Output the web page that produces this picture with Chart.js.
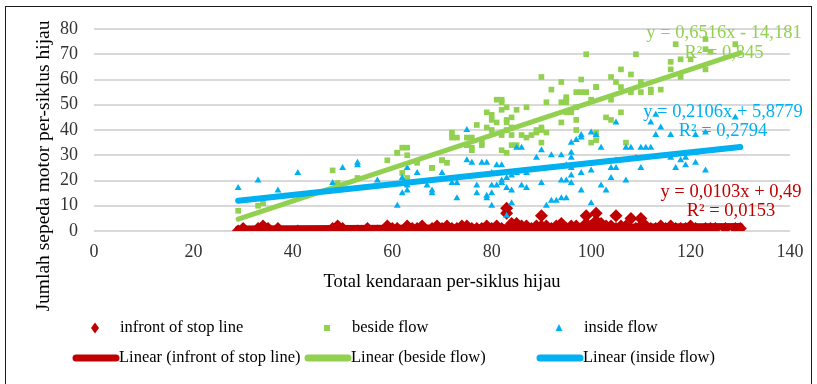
<!DOCTYPE html>
<html>
<head>
<meta charset="utf-8">
<script src="https://cdn.jsdelivr.net/npm/chart.js@4"></script>
<style>
	html, body { margin: 0; padding: 0; background: #fff; }
	#wrap { position: relative; width: 817px; height: 384px; overflow: hidden; }
	#frame { position: absolute; left: 5px; top: 6px; width: 807px; height: 400px; border: 1px solid #1a1a1a; box-sizing: border-box; pointer-events: none; }
	canvas { position: absolute; left: 0; top: 0; }
</style>
</head>
<body>
<div id="wrap">
	<canvas id="chart" width="817" height="384"></canvas>
	<div id="frame"></div>
</div>
<script>
// Series names
const seriesNames = ["infront of stop line", "beside flow", "inside flow"];

// infront of stop line (red diamonds)
const infrontX = [29, 30, 33, 34, 35, 37, 41, 48, 49, 50, 53, 55, 57, 59, 60, 61, 62, 63, 64, 65, 66, 67, 68, 69, 70, 71, 71, 72, 73, 74, 74, 75, 76, 77, 78, 78, 79, 80, 80, 81, 82, 83, 83, 83, 84, 84, 84, 85, 85, 86, 86, 87, 88, 88, 89, 89, 90, 90, 91, 91, 92, 92, 93, 93, 94, 94, 95, 95, 96, 96, 97, 97, 98, 98, 99, 99, 100, 100, 101, 101, 102, 102, 103, 103, 104, 104, 105, 105, 105, 106, 106, 107, 107, 108, 108, 109, 109, 110, 110, 111, 111, 112, 112, 113, 114, 114, 115, 116, 116, 117, 118, 119, 120, 121, 122, 123, 124, 125, 127, 129, 130];
const infrontY = [0, 1, 1, 2, 1, 1, 0, 1, 2, 1, 0, 1, 0, 2, 1, 1, 0, 2, 1, 1, 2, 0, 1, 2, 1, 0, 2, 1, 1, 0, 2, 2, 1, 1, 0, 1, 2, 1, 0, 2, 1, 9, 7, 0, 2, 1, 3, 1, 3, 0, 2, 2, 1, 0, 1, 2, 6, 2, 0, 2, 1, 0, 2, 0, 1, 3, 1, 0, 2, 0, 1, 2, 0, 1, 6, 3, 1, 2, 7, 4, 3, 0, 1, 2, 2, 1, 6, 1, 0, 0, 2, 1, 2, 5, 0, 1, 0, 5, 2, 1, 2, 0, 1, 1, 2, 0, 1, 0, 2, 1, 1, 1, 2, 1, 0, 1, 1, 1, 1, 1, 1];

// beside flow (green squares)
const besideX = [29, 33, 34, 48, 49, 53, 59, 61, 62, 63, 63, 62, 63, 65, 68, 70, 71, 72, 72, 75, 76, 77, 76, 78, 79, 80, 81, 82, 82, 80, 83, 83, 83, 84, 84, 83, 85, 87, 85, 87, 89, 90, 90, 90, 91, 90, 92, 91, 94, 94, 95, 97, 97, 95, 99, 98, 95, 98, 99, 101, 97, 97, 94, 89, 88, 101, 101, 80, 82, 81, 83, 79, 84, 82, 84, 86, 82, 78, 109, 117, 116, 118, 120, 123, 116, 118, 106, 104, 105, 108, 110, 101, 106, 104, 108, 110, 112, 114, 112, 100, 106, 103, 104, 100, 107, 123, 123, 129, 124, 61, 68, 70, 73, 75, 76, 95, 96];
const besideY = [8, 10, 11, 24, 19, 21, 28, 31, 33, 33, 30, 23, 21, 27, 25, 28, 27, 39, 37, 37, 37, 42, 33, 35, 47, 40, 52, 52, 48, 44, 49, 44, 40, 38, 45, 31, 34, 37, 48, 49, 39, 40, 41, 35, 39, 61, 56, 51, 51, 59, 53, 55, 49, 47, 70, 60, 52, 55, 55, 57, 44, 40, 43, 40, 38, 36, 39, 46, 51, 43, 43, 41, 41, 38, 34, 38, 32, 34, 70, 74, 67, 68, 68, 72, 64, 61, 64, 61, 59, 62, 59, 57, 57, 52, 55, 55, 55, 56, 56, 52, 47, 45, 44, 35, 35, 76, 64, 74, 71, 31, 25, 28, 37, 34, 32, 51, 47];

// inside flow (blue triangles)
const insideX = [29, 33, 37, 41, 48, 50, 53, 53, 57, 61, 62, 63, 63, 63, 65, 62, 67, 68, 68, 70, 72, 73, 73, 75, 75, 76, 77, 77, 79, 80, 81, 80, 79, 80, 80, 81, 82, 82, 83, 83, 84, 83, 84, 85, 86, 85, 87, 89, 90, 90, 92, 91, 92, 93, 94, 94, 94, 95, 96, 96, 96, 97, 96, 96, 95, 98, 100, 96, 98, 98, 98, 101, 95, 100, 79, 86, 87, 82, 84, 105, 100, 102, 104, 105, 104, 105, 107, 108, 107, 102, 103, 110, 111, 112, 109, 110, 112, 114, 113, 116, 113, 116, 118, 119, 121, 121, 129, 123, 123, 117, 119, 121, 78];
const insideY = [17, 20, 16, 23, 19, 25, 27, 26, 20, 10, 15, 25, 18, 16, 23, 21, 18, 16, 15, 23, 19, 19, 13, 40, 28, 27, 18, 15, 27, 18, 18, 23, 14, 15, 10, 26, 26, 19, 21, 17, 16, 6, 11, 33, 33, 23, 23, 29, 19, 32, 30, 10, 12, 12, 13, 30, 20, 20, 25, 22, 31, 36, 35, 29, 26, 23, 24, 19, 16, 37, 38, 38, 13, 11, 13, 18, 17, 20, 22, 43, 39, 33, 25, 25, 21, 28, 33, 33, 20, 18, 16, 33, 33, 33, 29, 25, 43, 41, 38, 38, 46, 29, 28, 29, 31, 38, 45, 24, 39, 25, 26, 27, 27];

// trendlines: slope, intercept, x range
const trendSlope = [0.0103, 0.6516, 0.2106];
const trendIntercept = [0.49, -14.181, 5.8779];
const trendRange = [29, 130];

// trendline labels
const trendEquation = ["y = 0,0103x + 0,49", "y = 0,6516x - 14,181", "y = 0,2106x + 5,8779"];
const trendR2 = ["R² = 0,0153", "R² = 0,845", "R² = 0,2794"];

// axes
const xTicks = [0, 20, 40, 60, 80, 100, 120, 140];
const yTicks = [0, 10, 20, 30, 40, 50, 60, 70, 80];
const xTitle = "Total kendaraan per-siklus hijau";
const yTitle = "Jumlah sepeda motor per-siklus hijau";

const colors = ["#C00000", "#92D050", "#00B0F0"];
const serif = "'Liberation Serif', 'Times New Roman', serif";

function toPoints(xs, ys) {
	return xs.map((x, i) => ({ x: x, y: ys[i] }));
}

function trendPoints(i) {
	return trendRange.map((x) => ({ x: x, y: trendSlope[i] * x + trendIntercept[i] }));
}

// label anchors in pixels (centre of each line of text)
const labelPos = [
	{ x: 731, eqY: 192, r2Y: 211 },
	{ x: 724, eqY: 33, r2Y: 53 },
	{ x: 723, eqY: 112, r2Y: 131 },
];

// Legend, y title and trendline labels drawn by hand
const extrasPlugin = {
	id: "extras",
	afterDraw(chart) {
		const ctx = chart.ctx;
		ctx.save();

		// y axis title (Excel centres it lower than the plot area)
		ctx.save();
		ctx.translate(44, 166);
		ctx.rotate(-Math.PI / 2);
		ctx.font = "19.5px " + serif;
		ctx.fillStyle = "#000";
		ctx.textAlign = "center";
		ctx.textBaseline = "middle";
		ctx.fillText(yTitle, 0, 0);
		ctx.restore();

		// equation labels
		ctx.font = "18.5px " + serif;
		ctx.textAlign = "center";
		ctx.textBaseline = "middle";
		for (let i = 0; i < 3; i++) {
			ctx.fillStyle = colors[i];
			ctx.fillText(trendEquation[i], labelPos[i].x, labelPos[i].eqY);
			ctx.fillText(trendR2[i], labelPos[i].x, labelPos[i].r2Y);
		}

		// legend
		const cols = [120, 352, 584];
		const row1 = 328;
		const row2 = 358;
		ctx.font = "16.5px " + serif;
		ctx.textAlign = "left";
		for (let i = 0; i < 3; i++) {
			const tx = cols[i];
			// marker
			ctx.fillStyle = colors[i];
			const mx = tx - 25;
			ctx.beginPath();
			if (i === 0) {
				ctx.moveTo(mx, row1 - 5.5);
				ctx.lineTo(mx + 4, row1);
				ctx.lineTo(mx, row1 + 5.5);
				ctx.lineTo(mx - 4, row1);
			} else if (i === 1) {
				ctx.rect(mx - 3, row1 - 3, 6, 6);
			} else {
				ctx.moveTo(mx, row1 - 4);
				ctx.lineTo(mx + 3.5, row1 + 3);
				ctx.lineTo(mx - 3.5, row1 + 3);
			}
			ctx.closePath();
			ctx.fill();
			ctx.fillStyle = "#000";
			ctx.fillText(seriesNames[i], tx, row1);

			// line sample
			ctx.strokeStyle = colors[i];
			ctx.lineWidth = 7;
			ctx.lineCap = "round";
			ctx.beginPath();
			ctx.moveTo(tx - 44, row2);
			ctx.lineTo(tx - 4, row2);
			ctx.stroke();
			ctx.fillStyle = "#000";
			ctx.fillText("Linear (" + seriesNames[i] + ")", tx - 1, row2);
		}
		ctx.restore();
	},
};

const ctx = document.getElementById("chart").getContext("2d");
new Chart(ctx, {
	type: "scatter",
	data: {
		datasets: [
			{ label: "Linear (inside flow)", data: trendPoints(2), showLine: true, borderColor: colors[2], borderWidth: 6, borderCapStyle: "round", pointRadius: 0, order: 0 },
			{ label: "Linear (beside flow)", data: trendPoints(1), showLine: true, borderColor: colors[1], borderWidth: 5, borderCapStyle: "round", pointRadius: 0, order: 1 },
			{ label: "Linear (infront of stop line)", data: trendPoints(0), showLine: true, borderColor: colors[0], borderWidth: 7, borderCapStyle: "round", pointRadius: 0, order: 2 },
			{ label: seriesNames[2], data: toPoints(insideX, insideY), pointStyle: "triangle", pointRadius: 4, backgroundColor: colors[2], borderWidth: 0, order: 3 },
			{ label: seriesNames[0], data: toPoints(infrontX, infrontY), pointStyle: "rectRot", pointRadius: 6.5, backgroundColor: colors[0], borderWidth: 0, order: 4 },
			{ label: seriesNames[1], data: toPoints(besideX, besideY), pointStyle: "rect", pointRadius: 4, backgroundColor: colors[1], borderWidth: 0, order: 5 },
		],
	},
	options: {
		responsive: false,
		animation: false,
		events: [],
		layout: { padding: { left: 28, top: 29, right: 27, bottom: 91 } },
		plugins: {
			legend: { display: false },
			tooltip: { enabled: false },
		},
		scales: {
			x: {
				type: "linear",
				min: xTicks[0],
				max: xTicks[xTicks.length - 1],
				afterFit(scale) { scale.height = 62; },
				afterBuildTicks(scale) { scale.ticks = xTicks.map((v) => ({ value: v })); },
				grid: { display: false, drawTicks: false },
				border: { display: false },
				ticks: { padding: 10, color: "#333", font: { family: serif, size: 18 } },
				title: { display: true, text: xTitle, color: "#000", padding: { top: 0, bottom: 0 }, font: { family: serif, size: 18.5 } },
			},
			y: {
				type: "linear",
				min: yTicks[0],
				max: yTicks[yTicks.length - 1],
				afterFit(scale) { scale.width = 66; },
				afterBuildTicks(scale) { scale.ticks = yTicks.map((v) => ({ value: v })); },
				grid: { color: "#d9d9d9", lineWidth: 2, drawTicks: false },
				border: { display: false },
				ticks: { padding: 16, color: "#333", font: { family: serif, size: 18 } },
				title: { display: false },
			},
		},
	},
	plugins: [extrasPlugin],
});
</script>
</body>
</html>
